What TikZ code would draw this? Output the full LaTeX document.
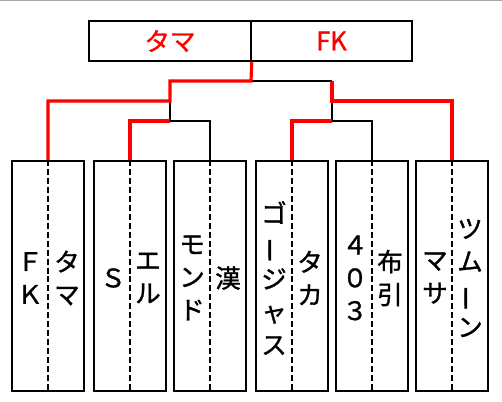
\documentclass[tikz,border=0pt]{standalone}
\usepackage{fontspec}
\setmainfont[FakeBold=1.2]{Noto Sans CJK JP}
\newcommand{\chouon}{\rotatebox[origin=c]{90}{ー}}
\tikzset{
  entry/.style={draw,line width=1.15pt,minimum width=1.44cm,minimum height=4.6cm,inner sep=0pt},
  finbox/.style={draw,line width=1.15pt,minimum width=3.23cm,minimum height=0.81cm,inner sep=0pt,text=red},
  teamtext/.style={align=center,inner sep=0pt,font=\fontsize{14.5}{18.7}\selectfont},
  lost/.style={line width=1.15pt},
  won/.style={line width=1.8pt,red},
  mid/.style={line width=1.1pt,dash pattern=on 3.4pt off 1.7pt},
}
\begin{document}
\begin{tikzpicture}[x=0.02cm,y=-0.02cm,line join=miter]
  \useasboundingbox (0,0) rectangle (502,401);
  \draw[gray!70,line width=0.6pt] (0,0.5) -- (502,0.5);
  % 決勝
  \node[finbox,teamtext] (fin1) at (170,41) {タマ};
  \node[finbox,teamtext] (fin2) at (331.5,41) {FK};
  % 出場者の枠
  \node[entry] (e1) at (48,276) {};
  \node[entry] (e2) at (130,276) {};
  \node[entry] (e3) at (210,276) {};
  \node[entry] (e4) at (292,276) {};
  \node[entry] (e5) at (372,276) {};
  \node[entry] (e6) at (452,276) {};
  \foreach \i in {1,...,6}
    \draw[mid] (e\i.north) -- (e\i.south);
  % 名前（縦書き）
  \node[teamtext] (n1a) at (30,278) {Ｆ\\Ｋ};
  \node[teamtext] (n1b) at (67,278) {タ\\マ};
  \node[teamtext] (n2a) at (113,278) {Ｓ};
  \node[teamtext] (n2b) at (148,278) {エ\\ル};
  \node[teamtext] (n3a) at (192,278) {モ\\ン\\ド};
  \node[teamtext] (n3b) at (228,278) {漢};
  \node[teamtext] (n4a) at (274,278) {ゴ\\\chouon\\ジ\\ャ\\ス};
  \node[teamtext] (n4b) at (310,278) {タ\\カ};
  \node[teamtext] (n5a) at (355,278) {４\\０\\３};
  \node[teamtext] (n5b) at (390,278) {布\\引};
  \node[teamtext] (n6a) at (435,278) {マ\\サ};
  \node[teamtext] (n6b) at (470,278) {ツ\\ム\\\chouon\\ン};
  % トーナメント線
  \coordinate (split) at (251,81);
  \coordinate (upL) at (170,81);
  \coordinate (upR) at (332,81);
  \coordinate (sL) at (170,101);
  \coordinate (sR) at (332,101);
  \coordinate (qL) at (170,121);
  \coordinate (qR) at (332,121);
  \draw[lost] (split) -- (upR);
  \draw[lost] (sL) -- (qL) -| (e3.north);
  \draw[lost] (sR) -- (qR) -| (e5.north);
  \draw[won] (fin1.south east) -- (split) -| (sL) -| (e1.north);
  \draw[won] (upR) -- (sR) -| (e6.north);
  \draw[won] (qL) -| (e2.north);
  \draw[won] (qR) -| (e4.north);
\end{tikzpicture}
\end{document}
